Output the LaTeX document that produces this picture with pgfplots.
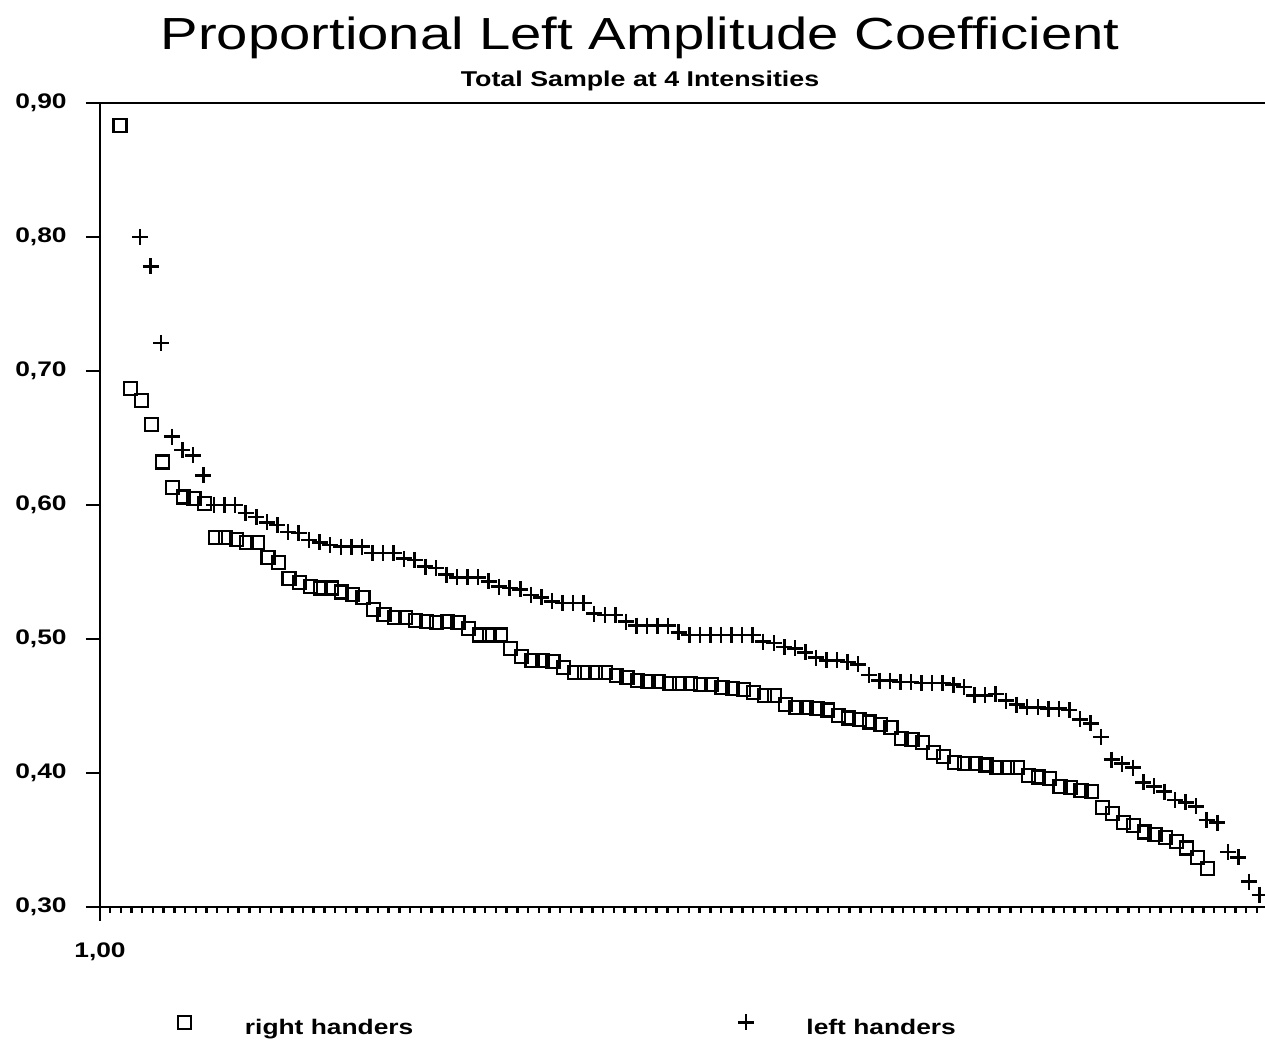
\documentclass[border=0pt]{standalone}
\usepackage{pgfplots}
\pgfplotsset{compat=1.18}
\usepackage{pgfplotstable}
\usepackage{fontspec}
\setmainfont[FakeStretch=1.25]{Liberation Sans}

\pgfplotstableread{
x y
2.9 0.883
3.9 0.687
4.9 0.678
5.9 0.660
6.9 0.632
7.9 0.613
8.9 0.606
9.9 0.605
10.9 0.601
11.9 0.576
12.9 0.576
13.9 0.574
14.9 0.572
15.9 0.572
16.9 0.561
17.9 0.557
18.9 0.545
19.9 0.542
20.9 0.539
21.9 0.538
22.9 0.538
23.9 0.535
24.9 0.533
25.9 0.531
26.9 0.522
27.9 0.518
28.9 0.516
29.9 0.516
30.9 0.514
31.9 0.513
32.9 0.512
33.9 0.513
34.9 0.512
35.9 0.508
36.9 0.503
37.9 0.503
38.9 0.503
39.9 0.493
40.9 0.487
41.9 0.484
42.9 0.484
43.9 0.483
44.9 0.479
45.9 0.475
46.9 0.475
47.9 0.475
48.9 0.475
49.9 0.473
50.9 0.471
51.9 0.469
52.9 0.468
53.9 0.468
54.9 0.467
55.9 0.467
56.9 0.467
57.9 0.466
58.9 0.466
59.9 0.464
60.9 0.463
61.9 0.462
62.9 0.460
63.9 0.458
64.9 0.458
65.9 0.451
66.9 0.449
67.9 0.449
68.9 0.448
69.9 0.447
70.9 0.443
71.9 0.441
72.9 0.440
73.9 0.438
74.9 0.436
75.9 0.434
76.9 0.426
77.9 0.425
78.9 0.423
79.9 0.415
80.9 0.412
81.9 0.408
82.9 0.407
83.9 0.407
84.9 0.406
85.9 0.404
86.9 0.404
87.9 0.404
88.9 0.398
89.9 0.397
90.9 0.396
91.9 0.390
92.9 0.389
93.9 0.387
94.9 0.386
95.9 0.374
96.9 0.370
97.9 0.363
98.9 0.361
99.9 0.356
100.9 0.354
101.9 0.352
102.9 0.349
103.9 0.344
104.9 0.337
105.9 0.329
}\righthanders

\pgfplotstableread{
x y
4.8 0.800
5.8 0.778
6.8 0.721
7.8 0.651
8.8 0.641
9.8 0.637
10.8 0.622
11.8 0.600
12.8 0.600
13.8 0.600
14.8 0.594
15.8 0.591
16.8 0.587
17.8 0.585
18.8 0.580
19.8 0.579
20.8 0.574
21.8 0.572
22.8 0.570
23.8 0.569
24.8 0.569
25.8 0.569
26.8 0.564
27.8 0.564
28.8 0.564
29.8 0.560
30.8 0.559
31.8 0.554
32.8 0.553
33.8 0.548
34.8 0.546
35.8 0.546
36.8 0.546
37.8 0.543
38.8 0.539
39.8 0.538
40.8 0.537
41.8 0.533
42.8 0.531
43.8 0.528
44.8 0.527
45.8 0.527
46.8 0.527
47.8 0.519
48.8 0.518
49.8 0.518
50.8 0.513
51.8 0.510
52.8 0.510
53.8 0.510
54.8 0.510
55.8 0.505
56.8 0.503
57.8 0.503
58.8 0.503
59.8 0.503
60.8 0.503
61.8 0.503
62.8 0.503
63.8 0.498
64.8 0.497
65.8 0.494
66.8 0.493
67.8 0.490
68.8 0.486
69.8 0.484
70.8 0.484
71.8 0.483
72.8 0.481
73.8 0.473
74.8 0.469
75.8 0.469
76.8 0.468
77.8 0.468
78.8 0.467
79.8 0.467
80.8 0.467
81.8 0.466
82.8 0.464
83.8 0.458
84.8 0.458
85.8 0.459
86.8 0.454
87.8 0.451
88.8 0.449
89.8 0.449
90.8 0.448
91.8 0.448
92.8 0.447
93.8 0.440
94.8 0.437
95.8 0.427
96.8 0.410
97.8 0.407
98.8 0.404
99.8 0.393
100.8 0.390
101.8 0.386
102.8 0.380
103.8 0.378
104.8 0.375
105.8 0.365
106.8 0.363
107.8 0.341
108.8 0.337
109.8 0.319
110.8 0.309
}\lefthanders

\begin{document}
\begin{tikzpicture}
\begin{axis}[
  scale only axis,
  width=116.5mm, height=80.4mm,
  xmin=1, xmax=111.32,
  ymin=0.3, ymax=0.9,
  axis x line*=box,
  axis y line*=left,
  axis line style={line width=0.25mm},
  xtick pos=bottom, ytick pos=left,
  tick align=outside,
  major tick length=1.4mm,
  minor tick length=0.6mm,
  every tick/.style={line width=0.25mm, black},
  xtick={1}, xticklabels={1{,}00},
  minor xtick={1.95,2.965,...,110.7},
  ytick={0.3,0.4,0.5,0.6,0.7,0.8,0.9},
  yticklabels={{0,30},{0,40},{0,50},{0,60},{0,70},{0,80},{0,90}},
  ticklabel style={font=\fontsize{6}{7}\selectfont\bfseries},
  yticklabel style={xshift=-0.7mm},
  xticklabel style={yshift=-0.9mm},
  legend columns=2,
  legend image code/.code={\draw[#1] plot coordinates {(0mm,0.7mm)}; \path (-0.8mm,0mm) (5mm,1.4mm);},
  legend style={draw=none, fill=none, inner sep=0pt,
    at={(axis description cs:0.0644,-0.149)}, anchor=west,
    nodes={inner sep=0pt, font=\fontsize{6}{7}\selectfont\bfseries},
    /tikz/every odd column/.append style={column sep=0.9mm},
    /tikz/every even column/.append style={column sep=9.2mm}},
]
\addplot[only marks, mark=square, mark size=0.65mm, line width=0.22mm, black] table[x=x,y=y] {\righthanders};
\addlegendentry{\makebox[40mm][l]{right handers}}
\addplot[only marks, mark=+, mark size=0.8mm, line width=0.25mm, black] table[x=x,y=y] {\lefthanders};
\addlegendentry{left handers}
\end{axis}
\node[anchor=base, font=\fontsize{12.8}{14}\selectfont] at ([xshift=54mm,yshift=85.7mm]current axis.south west) {Proportional Left Amplitude Coefficient};
\node[anchor=base, font=\fontsize{6.1}{7}\selectfont\bfseries] at ([xshift=54mm,yshift=82.0mm]current axis.south west) {Total Sample at 4 Intensities};
\pgfresetboundingbox
\path[use as bounding box] ([xshift=-10mm,yshift=-13.5mm]current axis.south west) rectangle ([yshift=10.3mm]current axis.north east);
\end{tikzpicture}
\end{document}
